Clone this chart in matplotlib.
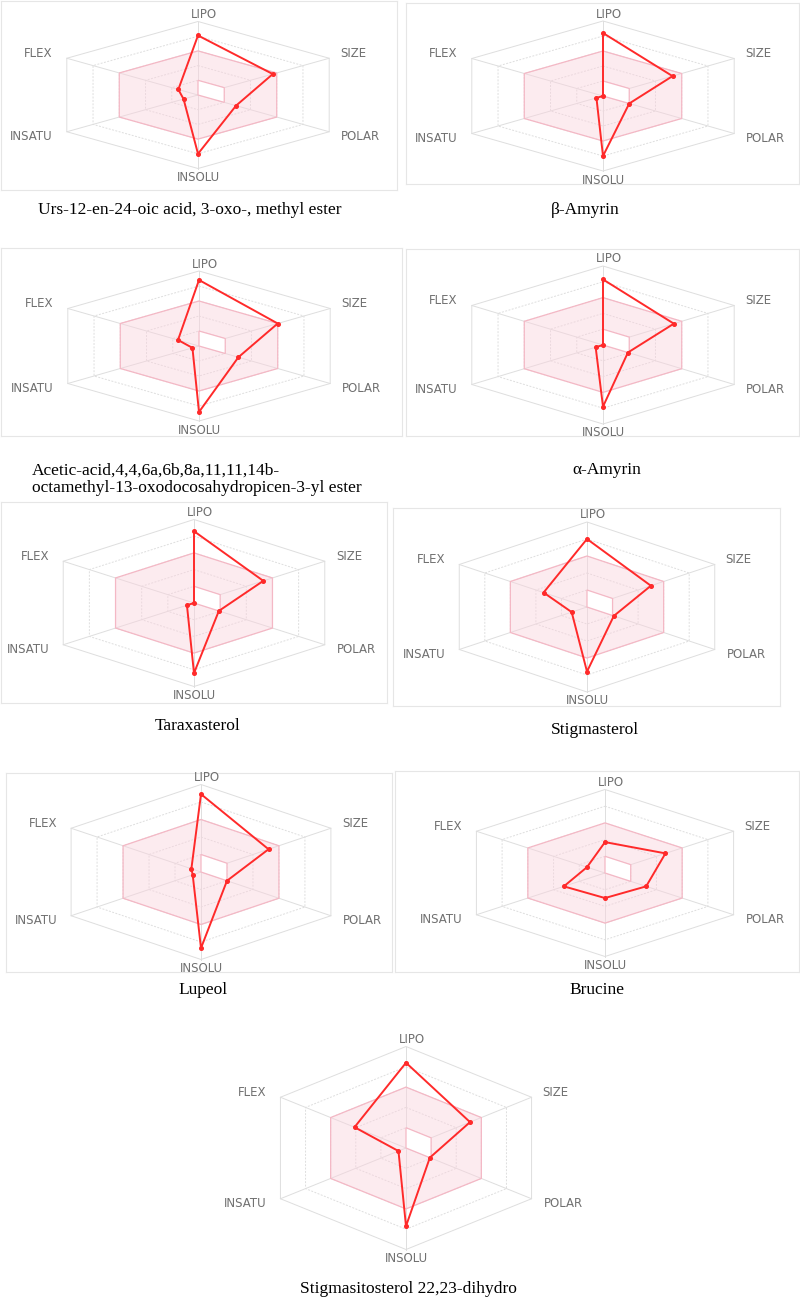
import numpy as np
import matplotlib
matplotlib.use("Agg")
import matplotlib.pyplot as plt
from matplotlib.patches import Polygon

# ---- data (radar values in grid units, 0..5) ----
captions = [
    "Urs-12-en-24-oic acid, 3-oxo-, methyl ester",
    "\u03b2-Amyrin",
    "Acetic-acid,4,4,6a,6b,8a,11,11,14b-\noctamethyl-13-oxodocosahydropicen-3-yl ester",
    "\u03b1-Amyrin",
    "Taraxasterol",
    "Stigmasterol",
    "Lupeol",
    "Brucine",
    "Stigmasitosterol 22,23-dihydro",
]
axis_names = ["LIPO", "SIZE", "POLAR", "INSOLU", "INSATU", "FLEX"]
lipo = [4.05, 4.2, 4.4, 4.15, 4.3, 4.0, 4.45, 1.85, 4.2]
size = [2.85, 2.65, 3.0, 2.7, 2.65, 2.5, 2.6, 2.35, 2.55]
polar = [1.45, 1.0, 1.5, 0.95, 0.95, 1.05, 1.0, 1.6, 0.95]
insolu = [4.0, 4.0, 4.4, 3.9, 4.2, 3.8, 4.35, 1.5, 3.85]
insatu = [0.55, 0.25, 0.25, 0.28, 0.27, 0.6, 0.32, 1.6, 0.3]
flex = [0.75, 0.0, 0.8, 0.0, 0.0, 1.7, 0.37, 0.7, 2.05]

# optimal range (pink band)
opt_inner = [1, 1, 1, 0, 0, 0]
opt_outer = [3, 3, 3, 3, 3, 3]

# ---- layout (pixels in the 800x1299 image) ----
W, H = 800, 1299
boxes = [(1, 1, 397, 190), (406, 3, 799, 184), (1, 248, 402, 436),
         (406, 249, 799, 436), (1, 502, 387, 703), (393, 508, 780, 706),
         (6, 773, 392, 972), (395, 771, 799, 972), (215, 1030, 600, 1268)]
centers = [(198, 95), (603, 96), (199, 346), (603, 345), (194, 603),
           (587, 607), (201, 872), (605, 873), (406, 1148)]
vunit = [14.7, 15, 15, 15.8, 16.7, 17, 17.5, 16.7, 20.3]
hunit = [30.3, 30.3, 30.3, 30.3, 30.2, 29.5, 30, 29.7, 29]
cap_pos = [(190, 210), (585, 210), (32, 479), (607, 470), (198, 726),
           (595, 730), (203, 990), (597, 990), (408, 1289)]

angles = np.deg2rad([90, 30, -30, -90, -150, 150])
# label offsets in pixels relative to outer vertex, and alignment
lab_off = [(6, 7, "center"), (11, 5, "left"), (12, -5, "left"),
           (0, -9, "center"), (-14, -5, "right"), (-14, 5, "right")]

GRID = "#dedede"
RED = "#ff2a2a"


def xy(r):
    r = np.asarray(r, dtype=float)
    return r * np.cos(angles), r * np.sin(angles)


fig = plt.figure(figsize=(W / 100, H / 100), dpi=100)

for i in range(len(captions)):
    x0, y0, x1, y1 = boxes[i]
    cx, cy = centers[i]
    ax = fig.add_axes([x0 / W, 1 - y1 / H, (x1 - x0) / W, (y1 - y0) / H])
    ax.set_xlim((x0 - cx) / hunit[i], (x1 - cx) / hunit[i])
    ax.set_ylim((cy - y1) / vunit[i], (cy - y0) / vunit[i])
    ax.set_xticks([])
    ax.set_yticks([])
    for sp in ax.spines.values():
        sp.set_color("#e6e6e6")
        sp.set_linewidth(0.8)
        if i == 8:
            sp.set_visible(False)

    # grid rings and spokes
    for ring in range(1, 6):
        gx, gy = xy([ring] * 6)
        ax.add_patch(Polygon(np.column_stack([gx, gy]), closed=True, fill=False,
                             edgecolor=GRID, linewidth=0.7,
                             linestyle="-" if ring == 5 else (0, (2, 1.5)),
                             zorder=1))
    ox, oy = xy([5] * 6)
    for k in range(6):
        ax.plot([0, ox[k]], [0, oy[k]], color=GRID, lw=0.7, zorder=1)

    # optimal range band
    ax_, ay_ = xy(opt_outer)
    bx_, by_ = xy(opt_inner)
    ax.add_patch(Polygon(np.column_stack([ax_, ay_]), closed=True,
                         facecolor="#fad3dd", alpha=0.45, edgecolor="none", zorder=2))
    ax.add_patch(Polygon(np.column_stack([bx_, by_]), closed=True,
                         facecolor="white", edgecolor="none", zorder=3))
    ax.add_patch(Polygon(np.column_stack([ax_, ay_]), closed=True, fill=False,
                         edgecolor="#f4b8c5", lw=0.9, zorder=4))
    ax.add_patch(Polygon(np.column_stack([bx_, by_]), closed=True, fill=False,
                         edgecolor="#f4b8c5", lw=0.9, zorder=4))

    # compound profile
    vals = [lipo[i], size[i], polar[i], insolu[i], insatu[i], flex[i]]
    px, py = xy(vals)
    ax.plot(np.append(px, px[0]), np.append(py, py[0]), color=RED, lw=1.4,
            zorder=5)
    ax.plot(px, py, "o", color=RED, ms=2.6, zorder=6)

    # axis labels
    for k, name in enumerate(axis_names):
        dx, dy, ha = lab_off[k]
        ax.annotate(name, (ox[k], oy[k]), xytext=(dx * 0.72, dy * 0.72),
                    textcoords="offset points", ha=ha, va="center",
                    fontsize=8.5, color="#707070", family="DejaVu Sans",
                    annotation_clip=False, zorder=7)

    # caption
    tx, ty = cap_pos[i]
    fig.text(tx / W, 1 - ty / H, captions[i], ha="left" if i == 2 else "center",
             va="center", fontsize=12.5, family="Liberation Serif",
             linespacing=1.1, color="black")

fig.savefig("out.png", dpi=100)
